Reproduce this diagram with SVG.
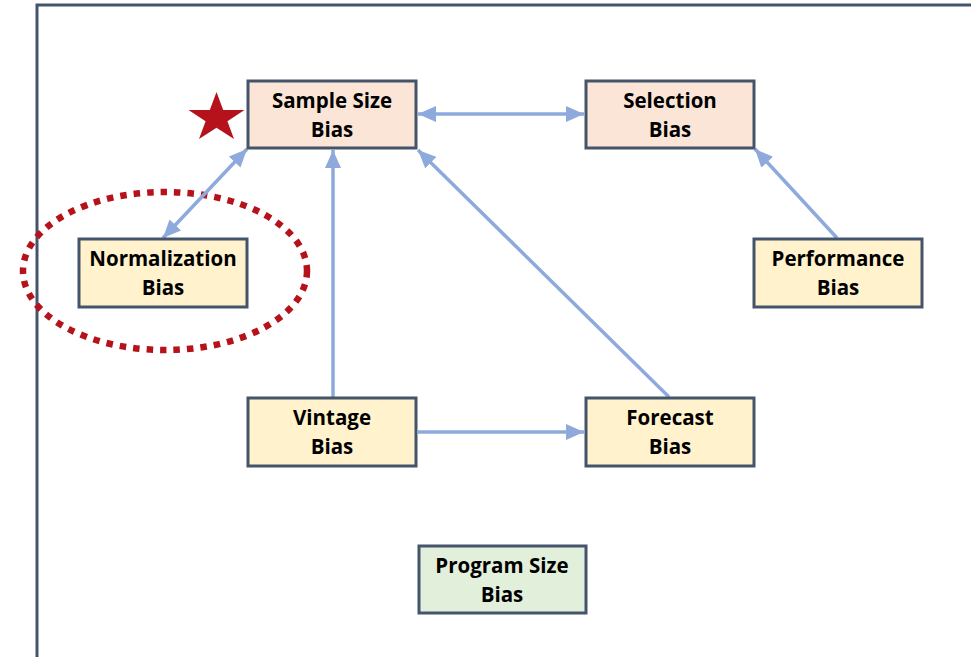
<svg xmlns="http://www.w3.org/2000/svg" width="971" height="657" viewBox="0 0 971 657">
<defs>
<style>
.box{stroke:#44546a;stroke-width:3}
.peach{fill:#fbe5d6}
.yellow{fill:#fff2cc}
.green{fill:#e2efda}
.lbl{font-family:"Open Sans","Liberation Sans",sans-serif;font-weight:700;font-size:20.5px;fill:#000;text-anchor:middle}
.conn{stroke:#8eaadc;stroke-width:3.5;fill:none}
</style>
<marker id="ah" viewBox="0 0 18 16" refX="18" refY="8" markerWidth="18" markerHeight="16" markerUnits="userSpaceOnUse" orient="auto-start-reverse">
<path d="M0,0 L18,8 L0,16 z" fill="#8eaadc"/>
</marker>
</defs>
<rect width="971" height="657" fill="#fff"/>
<path d="M37,657 L37,5 L971,5" fill="none" stroke="#44546a" stroke-width="3"/>
<ellipse cx="165" cy="271" rx="142" ry="79" fill="none" stroke="#b5121b" stroke-width="6.5" stroke-dasharray="6.5 7"/>
<polygon points="216.5,92 223.2,110 244.5,110 227.4,121.2 234,139 216.5,127.7 199,139 205.6,121.2 188.5,110 209.8,110" fill="#b5121b"/>
<g id="connectors">
<line class="conn" x1="418" y1="114" x2="584" y2="114" marker-start="url(#ah)" marker-end="url(#ah)"/>
<line class="conn" x1="247" y1="149" x2="163" y2="238" marker-start="url(#ah)" marker-end="url(#ah)"/>
<line class="conn" x1="333" y1="397" x2="333" y2="150" marker-end="url(#ah)"/>
<line class="conn" x1="669" y1="397" x2="418" y2="150" marker-end="url(#ah)"/>
<line class="conn" x1="837" y1="238" x2="755" y2="149" marker-end="url(#ah)"/>
<line class="conn" x1="418" y1="432" x2="584" y2="432" marker-end="url(#ah)"/>
</g>
<g id="sample-size-bias">
<rect class="box peach" x="248" y="81" width="168" height="67"/>
<text class="lbl" x="332" y="108">Sample Size</text>
<text class="lbl" x="332" y="137">Bias</text>
</g>
<g id="selection-bias">
<rect class="box peach" x="586" y="81" width="168" height="67"/>
<text class="lbl" x="670" y="108">Selection</text>
<text class="lbl" x="670" y="137">Bias</text>
</g>
<g id="normalization-bias">
<rect class="box yellow" x="79" y="239" width="168" height="68"/>
<text class="lbl" x="163" y="266">Normalization</text>
<text class="lbl" x="163" y="295">Bias</text>
</g>
<g id="performance-bias">
<rect class="box yellow" x="754" y="239" width="168" height="68"/>
<text class="lbl" x="838" y="266">Performance</text>
<text class="lbl" x="838" y="295">Bias</text>
</g>
<g id="vintage-bias">
<rect class="box yellow" x="248" y="398" width="168" height="68"/>
<text class="lbl" x="332" y="425">Vintage</text>
<text class="lbl" x="332" y="454">Bias</text>
</g>
<g id="forecast-bias">
<rect class="box yellow" x="586" y="398" width="168" height="68"/>
<text class="lbl" x="670" y="425">Forecast</text>
<text class="lbl" x="670" y="454">Bias</text>
</g>
<g id="program-size-bias">
<rect class="box green" x="419" y="546" width="167" height="67"/>
<text class="lbl" x="502" y="573">Program Size</text>
<text class="lbl" x="502" y="602">Bias</text>
</g>
</svg>
